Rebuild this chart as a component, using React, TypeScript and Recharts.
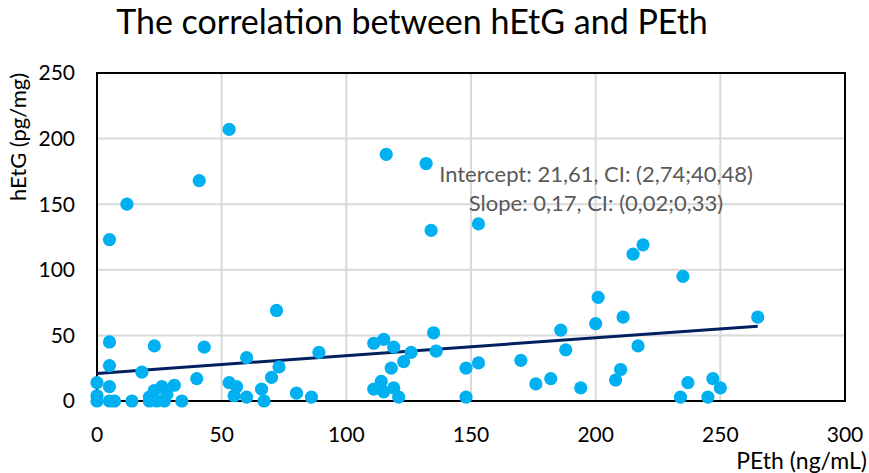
import React from 'react';
import {
  ScatterChart,
  Scatter,
  XAxis,
  YAxis,
  CartesianGrid,
  ReferenceArea,
} from 'recharts';

// PEth (ng/mL) vs hEtG (pg/mg)
const pethValues = [
  0, 0, 0, 5, 5, 5, 5, 7, 5, 12, 14, 18, 21, 21, 23, 23, 24, 26, 27, 28, 31, 34,
  40, 41, 43, 53, 53, 55, 56, 60, 60, 66, 67, 70, 72, 73, 80, 86, 89,
  111, 111, 114, 115, 115, 116, 118, 119, 119, 121, 123, 126, 132, 134, 135, 136,
  148, 148, 153, 153, 170, 176, 182, 186, 188, 194, 200, 201, 208, 210, 211,
  215, 217, 219, 234, 235, 237, 245, 247, 250, 265,
];
const hetgValues = [
  14, 4, 0, 45, 27, 11, 0, 0, 123, 150, 0, 22, 3, 0, 42, 8, 0, 11, 0, 5, 12, 0,
  17, 168, 41, 207, 14, 4, 11, 33, 3, 9, 0, 18, 69, 26, 6, 3, 37,
  44, 9, 15, 47, 7, 188, 25, 41, 10, 3, 30, 37, 181, 130, 52, 38,
  25, 3, 29, 135, 31, 13, 17, 54, 39, 10, 59, 79, 16, 24, 64,
  112, 42, 119, 3, 95, 14, 3, 17, 10, 64,
];

// trend line ends as drawn
const trendX = [0, 265];
const trendY = [21, 57];

const xTicks = [0, 50, 100, 150, 200, 250, 300];
const yTicks = [0, 50, 100, 150, 200, 250];

const TITLE = 'The correlation between hEtG and PEth';
const NOTE_1 = 'Intercept: 21,61, CI: (2,74;40,48)';
const NOTE_2 = 'Slope: 0,17, CI: (0,02;0,33)';

const points = pethValues.map((x, i) => ({ x, y: hetgValues[i] }));
const trend = trendX.map((x, i) => ({ x, y: trendY[i] }));

const FONT = 'Lato, "Open Sans", sans-serif';

const Dot = (props: any) => (
  <circle cx={props.cx} cy={props.cy} r={6.6} fill="#00b0f0" />
);

export default function App() {
  return (
    <div
      style={{
        position: 'absolute',
        left: 0,
        top: 0,
        width: 869,
        height: 473,
        background: '#fff',
        fontFamily: FONT,
      }}
    >
      <ScatterChart
        width={869}
        height={473}
        margin={{ top: 73, right: 24, bottom: 42, left: 37 }}
      >
        <CartesianGrid stroke="#d9d9d9" strokeWidth={2} />
        <XAxis
          type="number"
          dataKey="x"
          domain={[0, 300]}
          ticks={xTicks}
          height={30}
          axisLine={false}
          tickLine={false}
          tickSize={0}
          tickMargin={26}
          tick={{ fill: '#000', fontSize: 21, fontFamily: FONT }}
        />
        <YAxis
          type="number"
          dataKey="y"
          domain={[0, 250]}
          ticks={yTicks}
          width={60}
          axisLine={false}
          tickLine={false}
          tickSize={0}
          tickMargin={22}
          tick={{ fill: '#000', fontSize: 21, fontFamily: FONT }}
        />
        <ReferenceArea
          x1={0}
          x2={300}
          y1={0}
          y2={250}
          fill="none"
          stroke="#000"
          strokeWidth={2}
        />
        <Scatter
          data={trend}
          line={{ stroke: '#002060', strokeWidth: 3 }}
          shape={() => <g />}
          isAnimationActive={false}
        />
        <Scatter data={points} shape={Dot} isAnimationActive={false} />
      </ScatterChart>

      <div
        style={{
          position: 'absolute',
          left: 0,
          width: 824,
          top: 0,
          textAlign: 'center',
          fontSize: 34,
          color: '#000',
        }}
      >
        {TITLE}
      </div>

      <div
        style={{
          position: 'absolute',
          left: 17,
          top: 137,
          transform: 'translate(-50%, -50%) rotate(-90deg)',
          whiteSpace: 'nowrap',
          fontSize: 22,
          color: '#000',
        }}
      >
        hEtG (pg/mg)
      </div>

      <div
        style={{
          position: 'absolute',
          right: 2,
          top: 449,
          whiteSpace: 'nowrap',
          fontSize: 23,
          lineHeight: '23px',
          color: '#000',
        }}
      >
        PEth (ng/mL)
      </div>

      <div
        style={{
          position: 'absolute',
          left: 396,
          width: 400,
          top: 159,
          textAlign: 'center',
          fontSize: 22,
          lineHeight: '29px',
          color: '#595959',
        }}
      >
        <div>{NOTE_1}</div>
        <div>{NOTE_2}</div>
      </div>
    </div>
  );
}
